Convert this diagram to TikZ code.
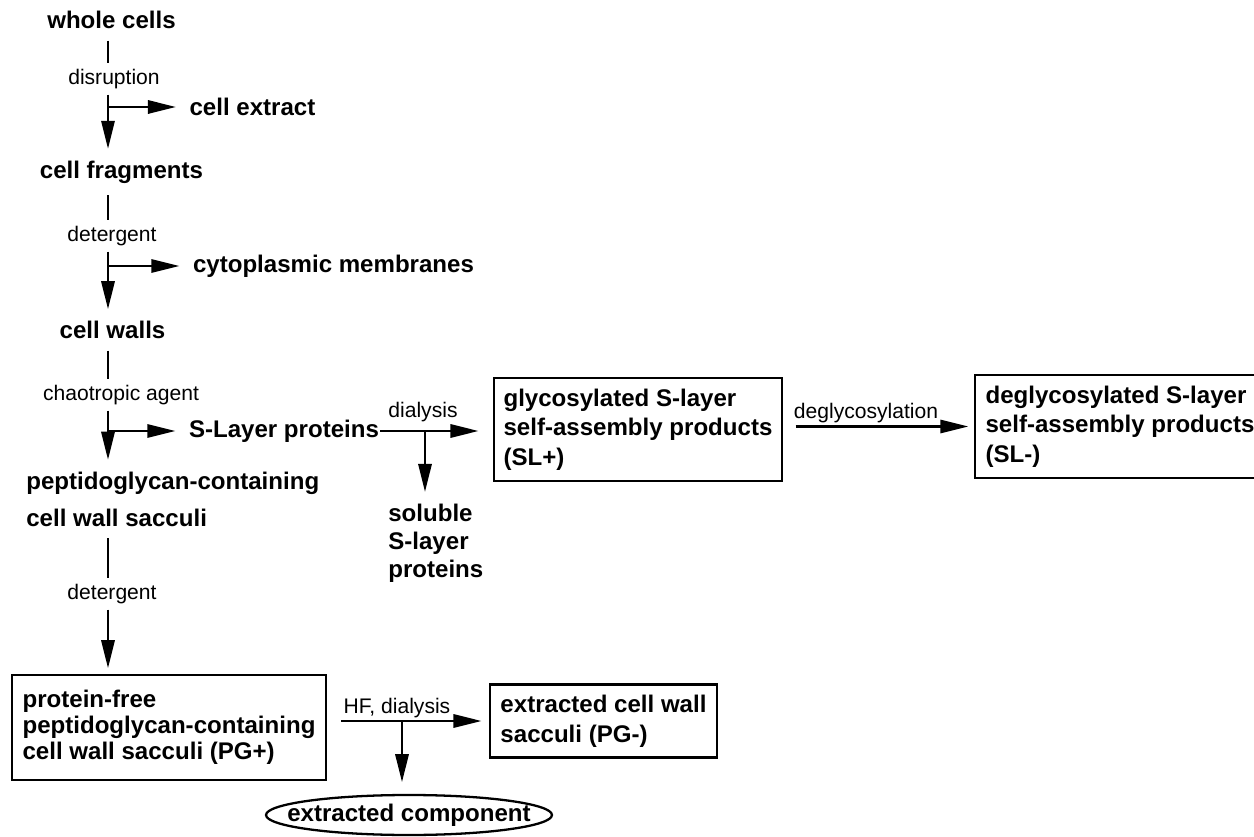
\documentclass[tikz,border=0pt]{standalone}
\usepackage{fontspec}
\setmainfont{Liberation Sans}
\usetikzlibrary{arrows.meta,positioning,calc}
\tikzset{
  main/.style = {font=\fontsize{13.7}{16.5}\selectfont\bfseries, inner xsep=4pt, inner ysep=6pt},
  lbl/.style = {font=\fontsize{12}{14}\selectfont, inner sep=2.5pt},
  box/.style = {main, draw, line width=1.6pt, align=left},
  arr/.style = {-{Triangle[length=16pt,width=7.5pt]}},
  branch/.style = {arr, shorten >=3pt}
}

\begin{document}
\begin{tikzpicture}[x=0.02cm, y=-0.02cm, line width=1.5pt]
    \useasboundingbox (0,0) rectangle (1254,837);

    % Main column
    \node[main] (whole) at (111.5,20) {whole cells};
    \node[lbl] (disr) at (114,79) {disruption};
    \node[main] (extract) at (252.5,107) {cell extract};
    \node[main] (frag) at (121.5,172) {cell fragments};
    \node[lbl] (det1) at (112,236) {detergent};
    \node[main] (membranes) at (333.5,266) {cytoplasmic membranes};
    \node[main] (walls) at (112.5,330) {cell walls};
    \node[lbl] (chao) at (121,395) {chaotropic agent};
    \node[main] (slp) at (284,431) {S-Layer proteins};
    \node[main, align=left, anchor=west, font=\fontsize{13.7}{21}\selectfont\bfseries]
        (pcw) at (18,499) {peptidoglycan-containing\\cell wall sacculi};
    \node[lbl] (det2) at (112,594) {detergent};

    % S-layer branch
    \node[lbl] (dial) at (423,412) {dialysis};
    \node[main, align=left, anchor=west, font=\fontsize{13.7}{15.9}\selectfont\bfseries]
        (sol) at (380,543) {soluble\\S-layer\\proteins};
    \node[box, minimum width=5.76cm, minimum height=2.06cm, font=\fontsize{13.7}{16.8}\selectfont\bfseries]
        (glyco) at (638,429.5) {glycosylated S-layer\\self-assembly products\\(SL+)};
    \node[lbl] (deg) at (866,413) {deglycosylation};
    \node[box, minimum width=5.8cm, minimum height=2.06cm, font=\fontsize{13.7}{16.8}\selectfont\bfseries]
        (deglyco) at (1120,426.5) {deglycosylated S-layer\\self-assembly products\\(SL-)};

    % Peptidoglycan branch
    \node[box, minimum width=6.28cm, minimum height=2.1cm, font=\fontsize{13.7}{14.9}\selectfont\bfseries]
        (pgplus) at (169,727.5) {protein-free\\peptidoglycan-containing\\cell wall sacculi (PG+)};
    \node[lbl] (hf) at (397,708) {HF, dialysis};
    \node[box, minimum width=4.54cm, minimum height=1.44cm, font=\fontsize{13.7}{17}\selectfont\bfseries]
        (pgminus) at (603.5,721) {extracted cell wall\\sacculi (PG-)};
    \node[main, minimum height=0.8cm] (comp) at (409,815) {extracted component};
    \draw[line width=1.3pt] (comp.center) ellipse [x radius=2.86cm, y radius=0.4cm];

    % Connectors
    \coordinate (spine) at (108,0);
    \draw (spine |- whole.south) -- (spine |- disr.north);
    \draw[arr] (spine |- disr.south) -- (spine |- frag.north);
    \draw[branch] (spine |- extract.west) -- (extract.west);
    \draw (spine |- frag.south) -- (spine |- det1.north);
    \draw[arr] (spine |- det1.south) -- (spine |- walls.north);
    \draw[branch] (spine |- membranes.west) -- (membranes.west);
    \draw (spine |- walls.south) -- (spine |- chao.north);
    \draw[arr] (spine |- chao.south) -- (spine |- pcw.north);
    \draw[branch] (spine |- slp.west) -- (slp.west);
    \draw (spine |- pcw.south) -- (spine |- det2.north);
    \draw[arr, shorten >=3pt] (spine |- det2.south) -- (spine |- pgplus.north);

    \draw[arr, shorten <=-4pt, shorten >=8pt] (slp.east) -- (slp.east -| glyco.west);
    \coordinate (dj) at (425,431);
    \draw[arr] (dj) -- (dj |- sol.north);
    \draw[arr, shorten <=7pt, shorten >=3pt] (glyco.east |- deglyco.west) -- (deglyco.west);

    \draw[arr, shorten <=8pt, shorten >=4pt] (pgplus.east |- pgminus.west) -- (pgminus.west);
    \coordinate (hj) at (402,721);
    \draw[arr, shorten >=5.5pt] (hj) -- (hj |- comp.north);
\end{tikzpicture}
\end{document}
